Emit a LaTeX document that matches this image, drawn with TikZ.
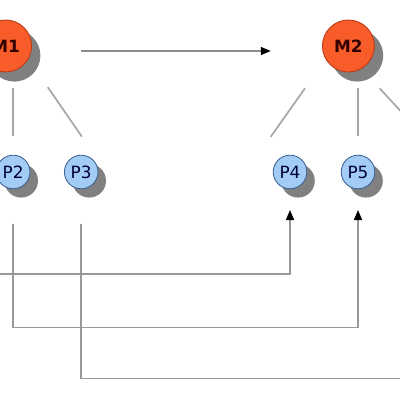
\documentclass[tikz,border=0pt]{standalone}
\usepackage{fontspec}
\setmainfont{DejaVu Sans}
\usepackage{tikz}
\usetikzlibrary{arrows.meta, shadows}

\definecolor{mfill}{HTML}{F85C28}
\definecolor{mdraw}{HTML}{B83A14}
\definecolor{pfill}{HTML}{A2CCF4}
\definecolor{pdraw}{HTML}{3A5F96}

\begin{document}
\begin{tikzpicture}[>={Triangle[length=0.25cm, width=0.2cm, black]},
    mnode/.style={circle, fill=mfill, draw=mdraw, line width=0.6pt,
        minimum size=1.3cm, inner sep=0pt, text=black!80!red,
        font=\bfseries\fontsize{12}{14}\selectfont,
        drop shadow={shadow xshift=0.22cm, shadow yshift=-0.24cm, fill=black!50, opacity=1}},
    pnode/.style={circle, fill=pfill, draw=pdraw, line width=0.6pt,
        minimum size=0.84cm, inner sep=0pt, text=black!80!blue,
        font=\fontsize{12}{14}\selectfont,
        drop shadow={shadow xshift=0.2cm, shadow yshift=-0.22cm, fill=black!50, opacity=1}},
    edge/.style={draw=black!35, line width=1.2pt},
    wire/.style={draw=black!40, line width=1.1pt}]
        \useasboundingbox (0,0) rectangle (10,10);

        % nodes
        \node[mnode] (M1) at (0.14,8.85) {M1};
        \node[mnode] (M2) at (8.71,8.85) {M2};
        \node[pnode] (P2) at (0.33,5.7) {P2};
        \node[pnode] (P3) at (2.03,5.7) {P3};
        \node[pnode] (P4) at (7.25,5.7) {P4};
        \node[pnode] (P5) at (8.95,5.7) {P5};

        % free ends outside the frame
        \coordinate (off6) at (10.75,6.43);
        \coordinate (in4)  at (-0.2,3.15);
        \coordinate (out3) at (10.2,0.54);

        % M1 to M2
        \draw[->, draw=black!45, line width=1pt, shorten <=1.23cm, shorten >=1.28cm]
            ([yshift=-0.125cm]M1.east) -- ([yshift=-0.125cm]M2.west);

        % tree edges
        \draw[edge, shorten <=0.4cm, shorten >=0.46cm] (P2 |- M1.south) -- (P2.north);
        \draw[edge, shorten <=0.85cm, shorten >=0.55cm] (M1.-30) -- ([xshift=0.33cm]P3.north);
        \draw[edge, shorten <=0.89cm, shorten >=0.55cm] (M2.210) -- ([xshift=-0.8cm]P4.north);
        \draw[edge, shorten <=0.4cm, shorten >=0.46cm] (P5 |- M2.south) -- (P5.north);
        \draw[edge, shorten <=0.66cm] (M2.-60) -- (off6);

        % links below
        \draw[wire, ->, shorten >=0.52cm] (in4) -| (P4.south);
        \draw[wire, ->, shorten <=0.86cm, shorten >=0.52cm]
            (P2.south) |- ([yshift=-3.46cm]P5.south) -- (P5.south);
        \draw[wire, shorten <=0.86cm] (P3.south) |- (out3);
    \end{tikzpicture}
\end{document}
